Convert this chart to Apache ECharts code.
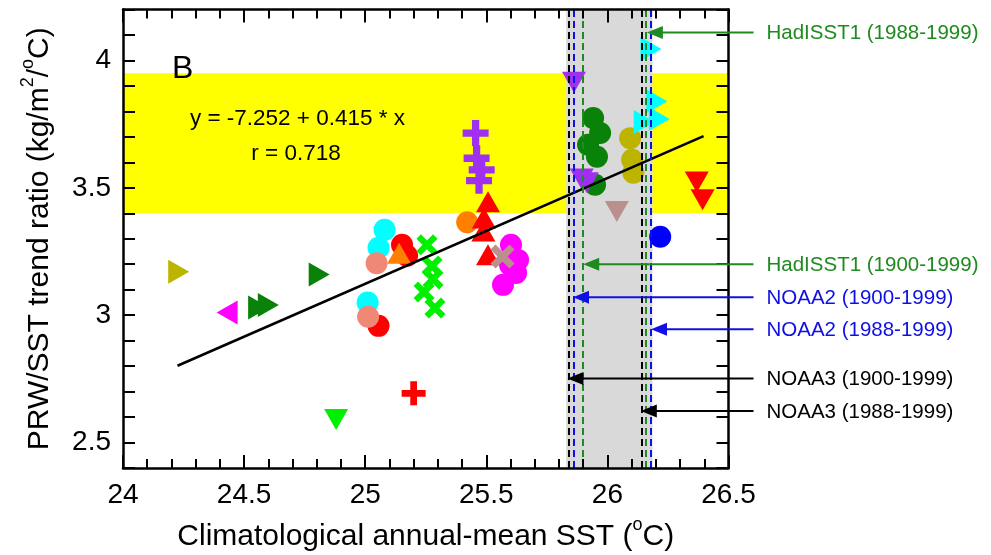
<!DOCTYPE html>
<html>
<head>
<meta charset="utf-8">
<title>PRW/SST trend ratio vs climatological SST</title>
<script src="https://cdn.jsdelivr.net/npm/echarts@6/dist/echarts.min.js"></script>
<style>
  html, body { margin: 0; padding: 0; background: #fff; }
  #chart { width: 991px; height: 555px; }
</style>
</head>
<body>
<div id="chart"></div>
<script>
// ---- model points: [climatological SST (degC), PRW/SST trend ratio] ----
const oliveRightTri     = [[24.23, 3.17]];
const magentaLeftTri    = [[24.43, 3.01]];
const darkGreenRightTri = [[24.56, 3.03], [24.60, 3.04], [24.81, 3.16]];
const limeDownTri       = [[24.88, 2.59]];
const cyanCircles       = [[25.08, 3.335], [25.055, 3.265], [25.01, 3.05]];
const redCircles        = [[25.055, 2.958], [25.152, 3.276], [25.173, 3.233]];
const salmonCircles     = [[25.047, 3.204], [25.012, 2.994]];
const orangeUpTri       = [[25.14, 3.243]];
const limeCrosses       = [[25.255, 3.276], [25.276, 3.193], [25.28, 3.142], [25.243, 3.091], [25.288, 3.028]];
const redPlus           = [[25.20, 2.693]];
const orangeCircles     = [[25.421, 3.365]];
const purplePlus        = [[25.456, 3.715], [25.46, 3.616], [25.481, 3.57], [25.47, 3.528]];
const redUpTri          = [[25.507, 3.445], [25.49, 3.381], [25.488, 3.33], [25.507, 3.237]];
const magentaCircles    = [[25.602, 3.276], [25.631, 3.217], [25.598, 3.197], [25.623, 3.166], [25.569, 3.119]];
const rosyCrosses       = [[25.567, 3.23]];
const darkGreenCircles  = [[25.941, 3.774], [25.97, 3.715], [25.92, 3.669], [25.957, 3.622], [25.949, 3.512]];
const purpleDownTri     = [[25.862, 3.914], [25.894, 3.535], [25.915, 3.52]];
const oliveCircles      = [[26.094, 3.695], [26.102, 3.61], [26.107, 3.559]];
const rosyDownTri       = [[26.039, 3.407]];
const cyanRightTri      = [[26.18, 4.045], [26.204, 3.84], [26.152, 3.758], [26.214, 3.77]];
const redDownTri        = [[26.369, 3.523], [26.393, 3.453]];
const blueCircles       = [[26.218, 3.308]];

// ---- least-squares fit (as printed on the panel) ----
const fitIntercept = -7.252;
const fitSlope = 0.415;
const fitR = 0.718;
const fitXRange = [24.225, 26.397];

// ---- observed SST climatologies ----
const obsNames  = ['HadISST1 (1988-1999)', 'HadISST1 (1900-1999)', 'NOAA2 (1900-1999)',
                   'NOAA2 (1988-1999)', 'NOAA3 (1900-1999)', 'NOAA3 (1988-1999)'];
const obsSST    = [26.163, 25.90, 25.858, 26.18, 25.835, 26.138];
const obsLabelY = [4.11, 3.20, 3.07, 2.945, 2.751, 2.624];
const obsColors = ['#1f8a1f', '#1f8a1f', '#1010e6', '#1010e6', '#000000', '#000000'];

// ---- shaded ranges ----
const observedRatioBand = [3.40, 3.95];
const observedSSTBand = [25.83, 26.186];

// ---- axes ----
const xRange = [24, 26.5];
const yRange = [2.4, 4.2];
const xTickStep = 0.5;
const yTickStep = 0.1;

const FONT = '"Liberation Sans", Arial, Helvetica, sans-serif';

const SYM = {
  down:  'path://M0,0L10,0L5,10Z',
  right: 'path://M0,0L10,5L0,10Z',
  left:  'path://M10,0L0,5L10,10Z',
  plus:  'path://M3.6,0H6.4V3.6H10V6.4H6.4V10H3.6V6.4H0V3.6H3.6Z',
  cross: 'path://M0,2.1L2.1,0L5,2.9L7.9,0L10,2.1L7.1,5L10,7.9L7.9,10L5,7.1L2.1,10L0,7.9L2.9,5Z'
};

function scatter(data, symbol, size, color) {
  return {
    type: 'scatter', data: data, symbol: symbol, symbolSize: size,
    itemStyle: { color: color, opacity: 1 }, z: 2, silent: true
  };
}

const CIRC = 22;
const TRI_V = [24, 21];
const TRI_H = [21, 24];

// drawn bottom to top
const markerSeries = [
  scatter(cyanCircles, 'circle', CIRC, '#00ffff'),
  scatter(redCircles, 'circle', CIRC, '#ff0000'),
  scatter(salmonCircles, 'circle', CIRC, '#f08878'),
  scatter(orangeUpTri, 'triangle', TRI_V, '#ff7f00'),
  scatter(limeCrosses, SYM.cross, 21, '#00f000'),
  scatter(oliveRightTri, SYM.right, TRI_H, '#bdb400'),
  scatter(magentaLeftTri, SYM.left, TRI_H, '#ff00ff'),
  scatter(darkGreenRightTri, SYM.right, TRI_H, '#0a820a'),
  scatter(limeDownTri, SYM.down, TRI_V, '#00f000'),
  scatter(redPlus, SYM.plus, 24, '#ff0000'),
  scatter(orangeCircles, 'circle', CIRC, '#ff7f00'),
  scatter(purplePlus, SYM.plus, 26, '#a030f0'),
  scatter(redUpTri, 'triangle', TRI_V, '#ff0000'),
  scatter(magentaCircles, 'circle', CIRC, '#ff00ff'),
  scatter(rosyCrosses, SYM.cross, 24, '#bc8f8f'),
  scatter(darkGreenCircles, 'circle', CIRC, '#0a820a'),
  scatter(purpleDownTri, SYM.down, TRI_V, '#a030f0'),
  scatter(oliveCircles, 'circle', CIRC, '#bdb400'),
  scatter(rosyDownTri, SYM.down, TRI_V, '#bc8f8f'),
  scatter(cyanRightTri, SYM.right, TRI_H, '#00ffff'),
  scatter(redDownTri, SYM.down, TRI_V, '#ff0000'),
  scatter(blueCircles, 'circle', CIRC, '#0000ff')
];

const fitLine = fitXRange.map(x => [x, fitIntercept + fitSlope * x]);

const titleRich = {
  t: { fontSize: 30, fontFamily: FONT, color: '#000', lineHeight: 42 },
  s: { fontSize: 18, fontFamily: FONT, color: '#000', lineHeight: 15, verticalAlign: 'top' }
};

function xAxisCfg(position, showLabel) {
  return {
    type: 'value', position: position, min: xRange[0], max: xRange[1], interval: xTickStep,
    z: 10,
    axisLine: { show: true, onZero: false, lineStyle: { color: '#000', width: 2.5 } },
    axisTick: { show: true, inside: true, length: 13, lineStyle: { color: '#000', width: 2 } },
    minorTick: { show: true, splitNumber: 5, length: 9, lineStyle: { color: '#000', width: 2 } },
    splitLine: { show: false }, minorSplitLine: { show: false },
    axisLabel: {
      show: showLabel, margin: 13, color: '#000', fontSize: 28, fontFamily: FONT,
      showMinLabel: true, showMaxLabel: true,
      formatter: v => String(Math.round(v * 10) / 10)
    },
    name: showLabel ? '{t|Climatological annual-mean SST (}{s|o}{t|C)}' : '',
    nameLocation: 'middle', nameGap: 48,
    nameTextStyle: { rich: titleRich }
  };
}

function yAxisCfg(position, showLabel) {
  return {
    type: 'value', position: position, min: yRange[0], max: yRange[1], interval: yTickStep,
    z: 10,
    axisLine: { show: true, onZero: false, lineStyle: { color: '#000', width: 2.5 } },
    axisTick: { show: true, inside: true, length: 12, lineStyle: { color: '#000', width: 2 } },
    splitLine: { show: false },
    axisLabel: {
      show: showLabel, margin: 12, color: '#000', fontSize: 28, fontFamily: FONT,
      formatter: v => { const k = Math.round(v * 10); return k % 5 === 0 ? String(k / 10) : ''; }
    },
    name: showLabel ? '{t|PRW/SST trend ratio (kg/m}{s|2}{t|/}{s|o}{t|C)}' : '',
    nameLocation: 'middle', nameRotate: 90, nameGap: 62,
    nameTextStyle: { rich: titleRich }
  };
}

const chart = echarts.init(document.getElementById('chart'), null, { renderer: 'canvas' });

chart.setOption({
  animation: false,
  backgroundColor: '#ffffff',
  grid: { left: 123, right: 262.5, top: 9.5, bottom: 87, containLabel: false, outerBoundsMode: 'none' },
  xAxis: [xAxisCfg('bottom', true), xAxisCfg('top', false)],
  yAxis: [yAxisCfg('left', true), yAxisCfg('right', false)],
  graphic: [
    { type: 'text', x: 172, y: 69, z: 20, style: { text: 'B', fontSize: 32, fontFamily: FONT, fill: '#000', verticalAlign: 'middle' } },
    { type: 'text', x: 297.5, y: 119, z: 20, style: { text: 'y = ' + fitIntercept.toFixed(3) + ' + ' + fitSlope.toFixed(3) + ' * x', fontSize: 22.5, fontFamily: FONT, fill: '#000', align: 'center', verticalAlign: 'middle' } },
    { type: 'text', x: 296, y: 154, z: 20, style: { text: 'r = ' + fitR.toFixed(3), fontSize: 22.5, fontFamily: FONT, fill: '#000', align: 'center', verticalAlign: 'middle' } }
  ],
  series: [
    {
      // shaded bands + observed-SST reference lines + regression fit
      type: 'line', data: fitLine, symbol: 'none', z: 4, silent: true,
      lineStyle: { color: '#000', width: 2.6 },
      markArea: {
        silent: true, z: 1,
        data: [
          [{ yAxis: observedRatioBand[0], itemStyle: { color: '#ffff00' } }, { yAxis: observedRatioBand[1] }],
          [{ xAxis: observedSSTBand[0], itemStyle: { color: '#d9d9d9' } }, { xAxis: observedSSTBand[1] }]
        ]
      },
      markLine: {
        silent: true, symbol: ['none', 'none'], z: 5,
        label: { show: false },
        data: obsSST.map((x, i) => ({ xAxis: x, lineStyle: { color: obsColors[i], width: 2, type: [7, 4] } }))
      }
    },
    ...markerSeries,
    {
      // arrows and labels pointing at each observed SST
      type: 'custom', coordinateSystem: 'cartesian2d', clip: false, silent: true, z: 20,
      data: obsSST.map((x, i) => [x, obsLabelY[i]]),
      renderItem: function (params, api) {
        const i = params.dataIndex;
        const tip = api.coord([api.value(0), api.value(1)]);
        const edge = api.coord([xRange[1], api.value(1)])[0];
        const endX = edge + 25;
        const col = obsColors[i];
        return {
          type: 'group',
          children: [
            { type: 'line', shape: { x1: tip[0] + 10, y1: tip[1], x2: endX, y2: tip[1] }, style: { stroke: col, lineWidth: 2 } },
            { type: 'polygon', shape: { points: [[tip[0], tip[1]], [tip[0] + 16, tip[1] - 6.5], [tip[0] + 16, tip[1] + 6.5]] }, style: { fill: col } },
            { type: 'text', x: endX + 13, y: tip[1] + 1, style: { text: obsNames[i], fill: col, fontSize: 20.5, fontFamily: FONT, align: 'left', verticalAlign: 'middle' } }
          ]
        };
      }
    }
  ]
});
</script>
</body>
</html>
